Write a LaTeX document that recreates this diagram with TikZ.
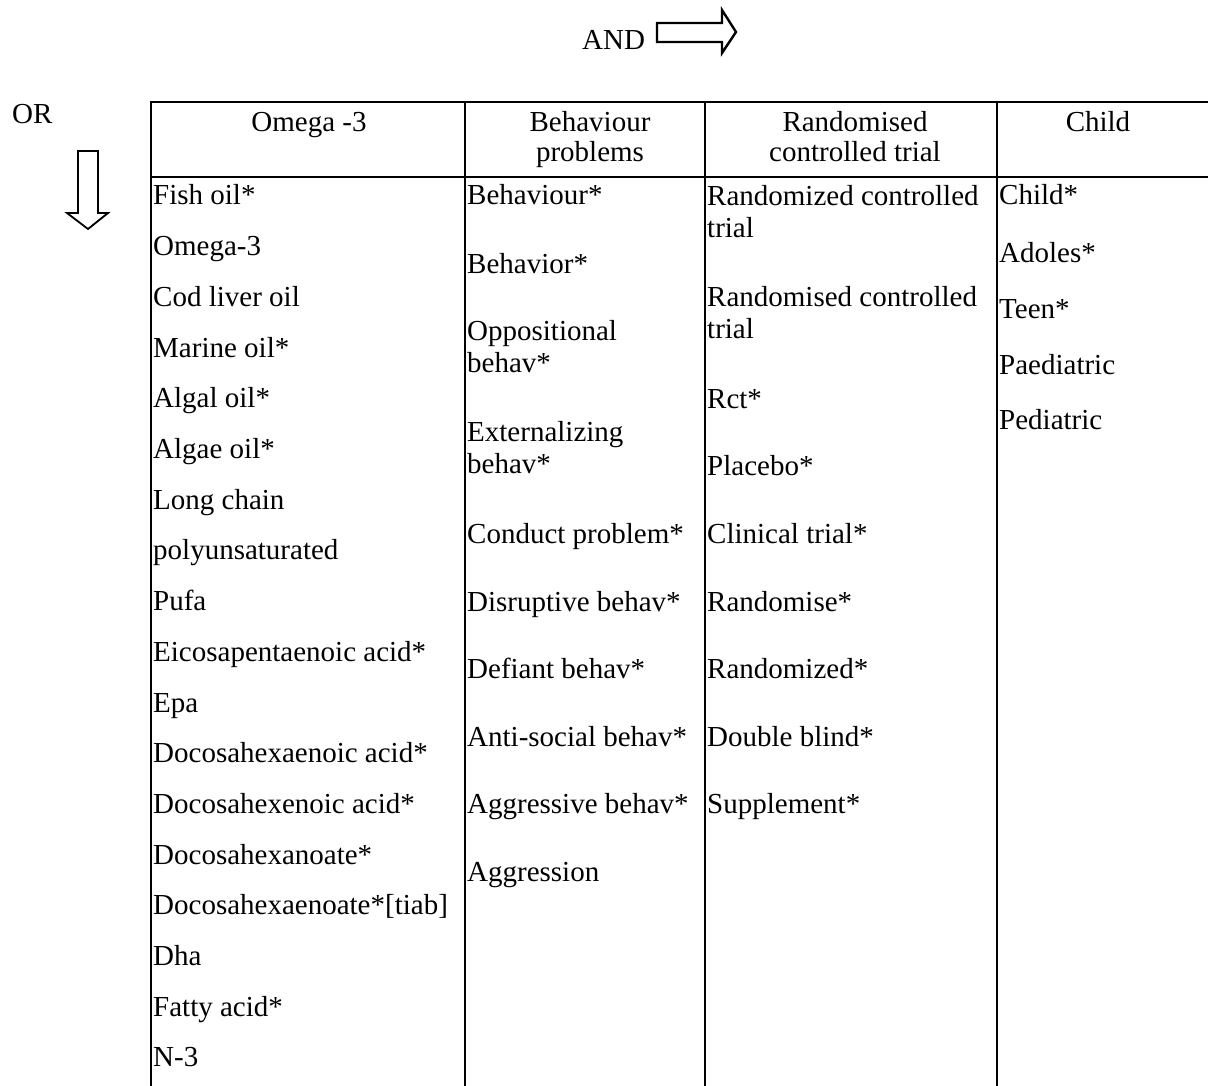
\documentclass[tikz,border=0pt]{standalone}
\usepackage{fontspec}
\setmainfont{Liberation Serif}
\begin{document}
\begin{tikzpicture}[x=1pt,y=-1pt,
  txt/.style={anchor=base west,inner sep=0pt,font=\fontsize{29}{32}\selectfont},
  hdr/.style={anchor=base,inner sep=0pt,font=\fontsize{29}{32}\selectfont},
  grid/.style={line width=2.6pt,line cap=rect},
  blockarrow/.style={line width=2.4pt,line join=miter}]
\useasboundingbox (0,0) rectangle (1208,1086);
\fill[white] (0,0) rectangle (1208,1086);
\begin{scope}
\clip (0,0) rectangle (1208,1086);
% table lines
\draw[grid] (151,102) -- (1212,102);
\draw[grid] (151,177) -- (1212,177);
\draw[grid] (151,102) -- (151,1090);
\draw[grid] (465,102) -- (465,1090);
\draw[grid] (705,102) -- (705,1090);
\draw[grid] (997,102) -- (997,1090);
\end{scope}
% AND arrow
\node[txt] (and) at (582,50) {AND};
\draw[blockarrow] (657,23) -- (722,23) -- (722,10) -- (736,32) -- (722,53) -- (722,42) -- (657,42) -- cycle;
% OR arrow
\node[txt] (or) at (12,124) {OR};
\draw[line width=1.8pt,line join=miter] (78,151) -- (98,151) -- (98,213) -- (108,213) -- (88,229) -- (67,213) -- (78,213) -- cycle;
% headers
\node[hdr] (h1) at (309,132) {Omega -3};
\node[hdr] (h2a) at (590,132) {Behaviour};
\node[hdr] (h2b) at (590,162) {problems};
\node[hdr] (h3a) at (855,132) {Randomised};
\node[hdr] (h3b) at (855,162) {controlled trial};
\node[hdr] (h4) at (1098,132) {Child};
% column 1
\foreach \t [count=\i from 0] in {Fish oil*,Omega-3,Cod liver oil,Marine oil*,Algal oil*,Algae oil*,Long chain,polyunsaturated,Pufa,Eicosapentaenoic acid*,Epa,Docosahexaenoic acid*,Docosahexenoic acid*,Docosahexanoate*,Docosahexaenoate*[tiab],Dha,Fatty acid*,N-3}
  \node[txt] (a\i) at (153,205+50.7*\i) {\t};
% column 2
\foreach \t/\y [count=\i] in {Behaviour*/205,Behavior*/273,Oppositional/340,behav*/372,Externalizing/441,behav*/473,Conduct problem*/543,Disruptive behav*/611,Defiant behav*/678,Anti-social behav*/746,Aggressive behav*/813,Aggression/881}
  \node[txt] (b\i) at (467,\y) {\t};
% column 3
\foreach \t/\y [count=\i] in {Randomized controlled/206,trial/238,Randomised controlled/306,trial/338,Rct*/408,Placebo*/475,Clinical trial*/543,Randomise*/611,Randomized*/678,Double blind*/746,Supplement*/813}
  \node[txt] (c\i) at (707,\y) {\t};
% column 4
\foreach \t/\y [count=\i] in {Child*/205,Adoles*/262,Teen*/318,Paediatric/374,Pediatric/429}
  \node[txt] (d\i) at (999,\y) {\t};
\end{tikzpicture}
\end{document}
